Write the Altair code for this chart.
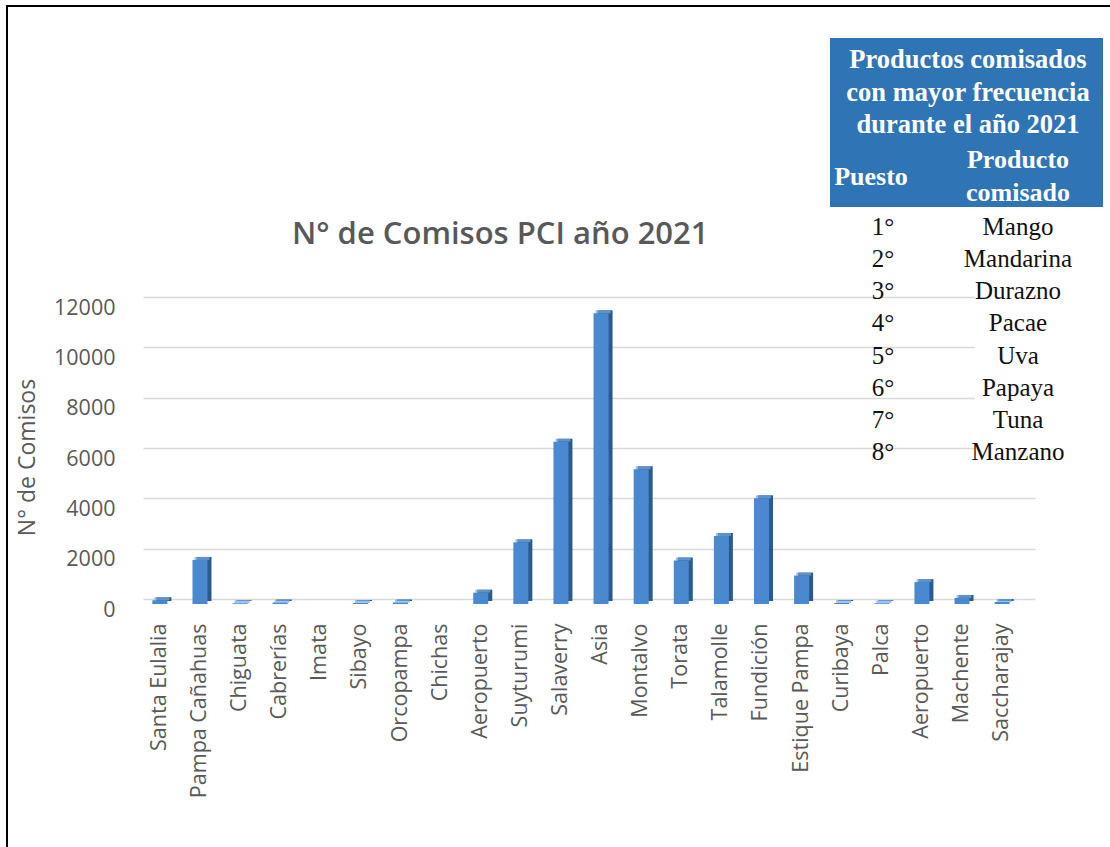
import json
import altair as alt
import pandas as pd

# Control posts and number of seizures (comisos) in 2021
estaciones = [
    "Santa Eulalia", "Pampa Cañahuas", "Chiguata", "Cabrerías", "Imata",
    "Sibayo", "Orcopampa", "Chichas", "Aeropuerto", "Suyturumi", "Salaverry",
    "Asia", "Montalvo", "Torata", "Talamolle", "Fundición", "Estique Pampa",
    "Curibaya", "Palca", "Aeropuerto", "Machente", "Saccharajay",
]
comisos = [
    150, 1750, 30, 60, 0,
    40, 60, 0, 450, 2450, 6450,
    11550, 5350, 1730, 2700, 4200, 1130,
    40, 30, 870, 240, 80,
]
y_ticks = [0, 2000, 4000, 6000, 8000, 10000, 12000]

# Ranking table of most frequently seized products
puestos = ["1°", "2°", "3°", "4°", "5°", "6°", "7°", "8°"]
productos = ["Mango", "Mandarina", "Durazno", "Pacae", "Uva", "Papaya", "Tuna", "Manzano"]
tabla_titulo = ["Productos comisados", "con mayor frecuencia", "durante el año 2021"]
col_puesto = "Puesto"
col_producto = ["Producto", "comisado"]
titulo = "N° de Comisos PCI año 2021"
eje_y = "N° de Comisos"

GREY = "#595959"
SANS = "Open Sans"
SERIF = "Liberation Serif"
W, H = 892, 302

bars_df = pd.DataFrame({"idx": list(range(len(estaciones))), "comisos": comisos})
tabla_df = pd.DataFrame({"puesto": puestos, "producto": productos})
one = pd.DataFrame({"k": [0]})

label_expr = json.dumps(estaciones, ensure_ascii=False) + "[datum.value]"

x_enc = alt.X(
    "idx:O",
    scale=alt.Scale(paddingInner=0.626, paddingOuter=0.433, align=0.27),
    axis=alt.Axis(
        title=None, labelAngle=-90, labelExpr=label_expr, labelPadding=24,
        labelFont=SANS, labelFontSize=21.5, labelColor=GREY,
        ticks=False, domain=False, grid=False,
    ),
)
y_enc = alt.Y(
    "comisos:Q",
    scale=alt.Scale(domain=[0, 12000], nice=False),
    axis=alt.Axis(
        values=y_ticks, format="d", title=eje_y, titleFont=SANS, titleFontSize=23,
        titleFontWeight="normal", titleColor=GREY, titleX=-116, titleY=160,
        titleAlign="center", titleBaseline="middle",
        labelFont=SANS, labelFontSize=21.5, labelColor=GREY, labelPadding=28,
        labelOffset=11, ticks=False, domain=False,
        grid=True, gridColor="#D9D9D9", gridWidth=1.5,
    ),
)

# 3-D style columns: darker side face, lighter top cap, front face
base = alt.Chart(bars_df).encode(x=x_enc, y=y_enc)
nonzero = base.transform_filter("datum.comisos > 0")
side = nonzero.mark_bar(color="#2B5A91", xOffset=4, yOffset=2)
cap = nonzero.mark_tick(color="#78A9E0", xOffset=2, yOffset=3.5, thickness=3, size=15)
front = base.mark_bar(color="#4A89CF", yOffset=5)
columns = alt.layer(side, cap, front)

# white backing behind the ranking table
mask = alt.Chart(one).mark_rect(color="white").encode(
    x=alt.value(832), x2=alt.value(897), y=alt.value(-12), y2=alt.value(173)
)

header = alt.Chart(one).mark_rect(color="#2F74B5").encode(
    x=alt.value(687), x2=alt.value(960), y=alt.value(-259), y2=alt.value(-90)
)
header_title = alt.Chart(one).mark_text(
    text=tabla_titulo, font=SERIF, fontSize=26.5, fontWeight="bold", color="white",
    lineHeight=32.5, baseline="middle", align="center",
).encode(x=alt.value(825), y=alt.value(-237))
header_puesto = alt.Chart(one).mark_text(
    text=col_puesto, font=SERIF, fontSize=26, fontWeight="bold", color="white",
    baseline="middle", align="center",
).encode(x=alt.value(728), y=alt.value(-120))
header_producto = alt.Chart(one).mark_text(
    text=col_producto, font=SERIF, fontSize=26, fontWeight="bold", color="white",
    lineHeight=33, baseline="middle", align="center",
).encode(x=alt.value(875), y=alt.value(-137))

row_y = alt.Y(
    "puesto:N", sort=None, axis=None,
    scale=alt.Scale(domain=puestos, range=[-70, 155], padding=0),
)
rows_puesto = alt.Chart(tabla_df).mark_text(
    font=SERIF, fontSize=25, color="#111111", baseline="middle", align="center"
).encode(y=row_y, x=alt.value(740), text="puesto:N")
rows_producto = alt.Chart(tabla_df).mark_text(
    font=SERIF, fontSize=25, color="#111111", baseline="middle", align="center"
).encode(y=row_y, x=alt.value(875), text="producto:N")
table_rows = alt.layer(rows_puesto, rows_producto)

title_text = alt.Chart(one).mark_text(
    text=titulo, font=SANS, fontSize=31, fontWeight=600, color=GREY,
    align="left", baseline="alphabetic",
).encode(x=alt.value(149), y=alt.value(-53))

frame_left = alt.Chart(one).mark_rule(color="black", strokeWidth=2).encode(
    x=alt.value(-136), y=alt.value(-291), y2=alt.value(560)
)
frame_top = alt.Chart(one).mark_rule(color="black", strokeWidth=2).encode(
    x=alt.value(-137), x2=alt.value(980), y=alt.value(-291)
)

chart = (
    alt.layer(
        columns, mask, header, header_title, header_puesto,
        header_producto, table_rows, title_text,
        frame_left, frame_top,
    )
    .resolve_scale(y="independent")
    .properties(
        width=W, height=H,
        autosize=alt.AutoSizeParams(type="none"),
        padding={"left": 143, "top": 297, "right": 1110 - 143 - W, "bottom": 847 - 297 - H},
        background="white",
    )
    .configure_view(stroke=None)
)

chart.save("out.html", embed_options={"renderer": "svg", "actions": False})
